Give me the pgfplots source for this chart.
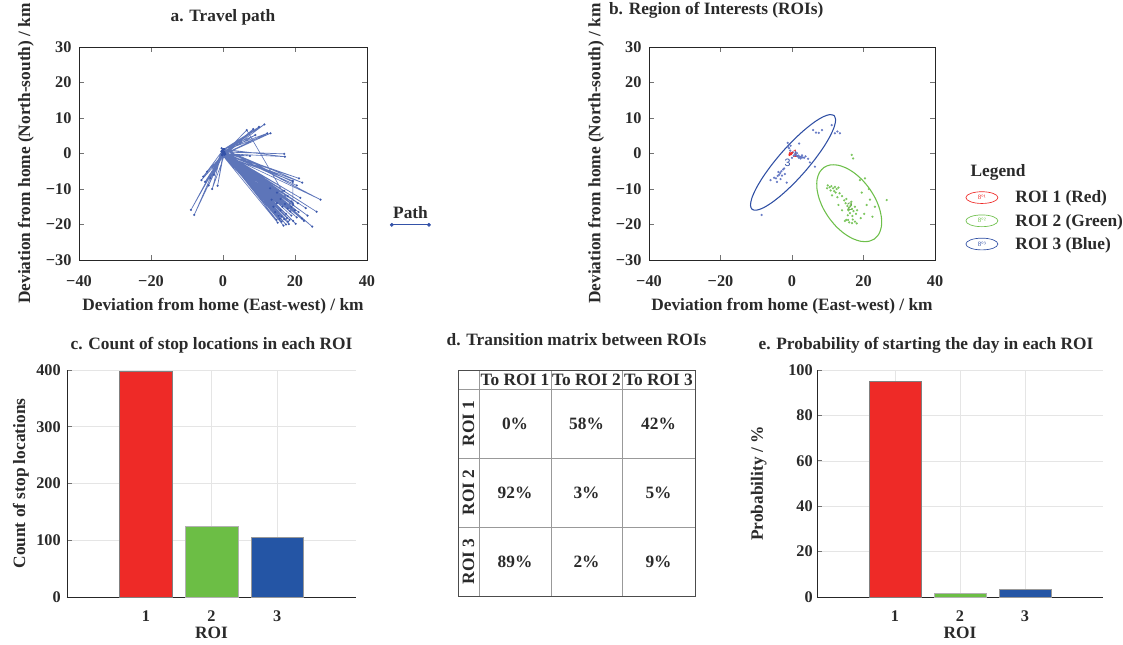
\documentclass[border=0pt]{standalone}
\usepackage{pgfplots}
\pgfplotsset{compat=1.18}
\usepackage{fontspec}
\setmainfont{Liberation Serif}
\setsansfont{Liberation Sans}
\definecolor{roired}{HTML}{EE2A27}
\definecolor{roigreen}{HTML}{6CBE45}
\definecolor{roiblue}{HTML}{2455A5}
\definecolor{pathblue}{HTML}{3452A8}
\definecolor{ptblue}{HTML}{5A6FC0}
\definecolor{ptgreen}{HTML}{74C255}
\definecolor{ellblue}{HTML}{2E4EA3}
\definecolor{ellgreen}{HTML}{6DBF4A}
\definecolor{txt}{HTML}{2A2A2A}
\newcommand{\lab}{\fontsize{13}{15}\selectfont\bfseries\color{txt}}
\newcommand{\tck}{\fontsize{12.2}{14}\selectfont\bfseries\color{txt}}
\pgfplotsset{
 base/.style={scale only axis, font=\lab, tick label style={font=\tck},
   /pgf/number format/assume math mode=true,
   axis line style={black!85, line width=0.6pt},
   tick style={black!55, line width=0.5pt},
   tick align=inside, major tick length=3.5pt,
   title style={anchor=base}, xlabel style={anchor=base}, ylabel style={anchor=base},
 },
 map/.style={base, width=216pt, height=159.75pt,
   xmin=-40,xmax=40,ymin=-30,ymax=30,
   xtick={-40,-20,0,20,40}, xticklabels={−40,−20,0,20,40},
   ytick={-30,-20,-10,0,10,20,30}, yticklabels={−30,−20,−10,0,10,20,30},
   xticklabel style={anchor=base, yshift=-20pt},
   yticklabel style={anchor=east, inner sep=0pt, xshift=-5.5pt},
   xlabel={Deviation from home (East-west) / km},
   ylabel={Deviation from home (North-south) / km},
   xlabel style={at={(axis description cs:0.5,-0.238)}},
   ylabel style={at={(axis description cs:-0.170,0.5)}},
   clip=false,
 },
 barax/.style={base, height=170.25pt,
   xmin=-0.2, xmax=4.2, ymin=0, xtick={1,2,3},
   axis x line*=bottom, axis y line*=left,
   grid=major, grid style={black!10, line width=0.4pt},
   x tick style={draw=none},
   xticklabel style={anchor=base, yshift=-15pt},
   xlabel={ROI},
   xlabel style={at={(axis description cs:0.5,-0.181)}},
   ybar, bar width=0.8, bar shift=0pt,
   clip=false,
 },
}
\begin{document}
\begin{tikzpicture}
\useasboundingbox (0,0) rectangle (842.25pt,483pt);
% ---------------- a. Travel path
\begin{axis}[map, at={(59.25pt,288pt)}, anchor=south west,
  title={a. Travel path}, title style={at={(axis description cs:0.5,1.083)}}]
\addplot[pathblue, line width=0.45pt, opacity=0.8, mark=*, mark size=0.6pt,
  mark options={fill=pathblue, draw=pathblue}] coordinates {
(0,0) (21.1,-7.0) (0.3,0.4) (16.3,-19.2) (-0.3,0.6) (11.5,8.2) (0.5,-0.2) (19.4,-7.7) (-0.2,-0.4) (-8.9,-15.9) (0.2,1.2) (27.1,-13.0) (0,0) (15,-11) (0.3,0.4) (17.0,-0.1) (-0.3,0.6) (26.0,-16.4) (0.5,-0.2) (18.1,-19.2) (-0.2,-0.4) (6.6,6.6) (19,-15) (0.2,1.2) (24.8,-20.6) (0,0) (-1.5,-9.1) (0.3,0.4) (23.0,-15.4) (-0.3,0.6) (14.9,-18.7) (0.5,-0.2) (8.4,6.9) (-0.2,-0.4) (21.9,-18.3) (0.2,1.2) (16,-16) (0,0) (17.5,-17) (0.3,0.4) (-8.0,-17.3) (-0.3,0.6) (19,-17.5) (0.5,-0.2) (20,-16) (-0.2,-0.4) (12.3,5.7) (0.2,1.2) (15.5,-17.5) (0,0) (17,-18.5) (0.3,0.4) (18.5,-18.7) (-0.3,0.6) (-4.4,-5.1) (0.5,-0.2) (19.5,-19) (-0.2,-0.4) (20.5,-18) (0.2,1.2) (17.2,-0.9) (0,0) (14,-15) (0.3,0.4) (15,-14) (-0.3,0.6) (13.2,5.7) (0.5,-0.2) (16.5,-15) (-0.2,-0.4) (18,-15.5) (0.2,1.2) (-3.5,-7) (0,0) (19.5,-14.5) (0.3,0.4) (21,-16.5) (-0.3,0.6) (22.5,-19) (0.5,-0.2) (7.5,-0.7) (-0.2,-0.4) (17.5,-20) (0.2,1.2) (16.8,-20.3) (0,0) (-5,-8) (0.3,0.4) (15.8,-18.4) (-0.3,0.6) (20.2,-19.8) (0.5,-0.2) (13.5,-13) (-0.2,-0.4) (10,7.5) (0.2,1.2) (14.5,-16.5) (0,0) (19,-13.5) (0.3,0.4) (-2.5,-6) (-0.3,0.6) (21.5,-12.5) (0.5,-0.2) (23.5,-17.5) (-0.2,-0.4) (18.7,-16.3) (0.2,1.2) (9,5.2) (0,0) (17.2,-14.2) (0.3,0.4) (16,-12.8) (-0.3,0.6) (-3,-10) (0.5,-0.2) (20.8,-14) (-0.2,-0.4) (13.1,-9.8) (0.2,1.2) (22,-8.2) (0,0) (-4,-9) (0.3,0.4) (20.5,-9) (-0.3,0.6) (17,-10.5) (0.5,-0.2) (18,-12) (-0.2,-0.4) (-5.5,-6.5) (0.2,1.2) (19.4,-8.0) (19.4,-14.0) (0,0) (16.2,-17.8) (0.3,0.4) (18.3,-19.9) (-0.3,0.6) (-6,-7.5) (0.5,-0.2) (17.8,-18.2) (-0.2,-0.4) (15.2,-19.5) (0.2,1.2) (-0.4,1.5) (0,0)
};
% legend sample
\addplot[pathblue, line width=0.6pt, mark=*, mark size=1.1pt] coordinates {(46.9,-20.1) (57.2,-20.1)};
\node[anchor=base] at (axis cs:52.1,-18.2) {Path};
\end{axis}
% ---------------- b. ROIs
\begin{axis}[map, at={(486.75pt,288pt)}, anchor=south west, width=214.5pt,
  title={b. Region of Interests (ROIs)}, title style={at={(axis description cs:0.235,1.117)}}]
\addplot[only marks, mark=*, mark size=0.65pt, ptblue, opacity=0.8] coordinates {
(0.2,0.3) (0.8,-0.2) (1.2,-0.5) (1.5,-0.8) (1.8,-0.6) (2.2,-0.9) (2.6,-1.0) (3.0,-1.1) (3.4,-1.2) (1.0,0.4) (0.5,-0.6) (1.9,-1.2) (2.8,-0.5) (-0.5,0.8) (-0.8,1.5) (-1.1,1.9) (0,-1.2) (2.4,-1.4) (1.4,0.1) (3.8,-0.8) (4.5,-1.5)
(-2.5,-4.5) (-3,-5) (-3.3,-5.5) (-3.6,-6) (-4,-6.3) (-2.8,-6.2) (-4.5,-7) (-3.2,-7.2) (-2,-5.8) (-5,-6.8) (-3.8,-5.2) (-2.2,-4.2) (-4.2,-8) (-1.5,-8.2) (-6,-7.5)
(5.9,6.6) (6.7,5.9) (8.4,6.6) (11.1,8) (12,5.7) (13.4,5.7) (12.7,6.2) (7.5,5.8)
(6.4,-3.7) (5,-2.5) (-8.5,-17.3) (-1.2,3) (-0.4,2.2) (2,2.8)
};
\addplot[only marks, mark=*, mark size=0.65pt, ptgreen, opacity=0.85] coordinates {
(10,-9) (10.5,-9.5) (11,-9.2) (11.5,-9.8) (12,-9.4) (12.5,-10) (13,-9.6) (10.8,-10.4) (11.8,-10.6) (9.8,-9.8) (12.2,-11) (13.3,-11.2) (11.2,-11.8) (12.7,-12.3) (14,-12)
(15,-14) (15.5,-14.8) (16,-15.2) (16.4,-14.6) (16.8,-15.6) (17.2,-16.2) (15.8,-16) (16.2,-16.8) (17.6,-15) (14.6,-13.2) (15.2,-12.8) (16.6,-13.6) (17.9,-17) (16.9,-17.6) (15.6,-17.4) (18.2,-16) (14,-16) (15.2,-18.7) (16,-19.4) (16.8,-19.6) (17.6,-19.2) (18.1,-19.7) (15.7,-18.7) (14.8,-19) (17,-18.6)
(16.7,-0.4) (17.1,-1.4) (19,-7.5) (20.4,-7) (26.5,-13.1) (23.2,-15) (20.9,-14.5) (21.8,-13) (20.2,-17) (22.5,-17.8) (19.5,-11) (13,-14.5) (19.2,-18.2) (21.5,-10)
};
\addplot[only marks, mark=*, mark size=0.65pt, roired] coordinates {(-0.6,0.1) (-0.3,-0.2) (0,0.2) (-0.7,-0.4)};
\addplot[ellblue, line width=0.8pt, smooth] coordinates {
(11.78,10.71) (10.57,10.97) (8.66,10.32) (6.18,8.79) (3.30,6.49) (0.21,3.58) (-2.87,0.26) (-5.73,-3.26) (-8.19,-6.72) (-10.06,-9.89) (-11.23,-12.56) (-11.61,-14.54) (-11.18,-15.71) (-9.97,-15.97) (-8.06,-15.32) (-5.58,-13.79) (-2.70,-11.49) (0.39,-8.58) (3.47,-5.26) (6.33,-1.74) (8.79,1.72) (10.66,4.89) (11.83,7.56) (12.21,9.54) (11.78,10.71)
};
\addplot[ellgreen, line width=0.8pt, smooth] coordinates {
(23.06,-24.08) (24.30,-22.69) (24.98,-20.72) (25.04,-18.29) (24.49,-15.56) (23.37,-12.73) (21.73,-9.99) (19.71,-7.51) (17.44,-5.49) (15.07,-4.04) (12.76,-3.27) (10.67,-3.23) (8.95,-3.92) (7.70,-5.31) (7.02,-7.28) (6.96,-9.71) (7.51,-12.44) (8.63,-15.27) (10.27,-18.01) (12.29,-20.49) (14.56,-22.51) (16.93,-23.96) (19.24,-24.73) (21.33,-24.77) (23.06,-24.08)
};
\node[text=roired, font=\sffamily\fontsize{8}{8}\selectfont] at (axis cs:0.9,-0.2) {1};
\node[text=ellblue, font=\sffamily\fontsize{8}{8}\selectfont] at (axis cs:-1.2,-2.6) {3};
\node[text=roigreen!80!black, font=\sffamily\fontsize{8}{8}\selectfont] at (axis cs:16.2,-15) {2};
% legend
\node[anchor=base west] at (axis description cs:1.108,0.390) {Legend};
\draw[roired, line width=0.5pt] (axis description cs:1.164,0.293) ellipse (12pt and 4.4pt);
\draw[ellgreen, line width=0.5pt] (axis description cs:1.164,0.184) ellipse (12pt and 4.4pt);
\draw[ellblue, line width=0.5pt] (axis description cs:1.164,0.075) ellipse (12pt and 4.4pt);
\node[text=roired, font=\fontsize{5}{5}\selectfont] at (axis description cs:1.164,0.293) {8°¹};
\node[text=ellgreen, font=\fontsize{5}{5}\selectfont] at (axis description cs:1.164,0.184) {8°²};
\node[text=ellblue, font=\fontsize{5}{5}\selectfont] at (axis description cs:1.164,0.075) {8°³};
\node[anchor=base west] at (axis description cs:1.265,0.268) {ROI 1 (Red)};
\node[anchor=base west] at (axis description cs:1.265,0.159) {ROI 2 (Green)};
\node[anchor=base west] at (axis description cs:1.265,0.050) {ROI 3 (Blue)};
\end{axis}
% ---------------- c. Count
\begin{axis}[barax, at={(50.25pt,35.25pt)}, anchor=south west, width=216.75pt,
  ymax=400, ytick={0,100,200,300,400},
  yticklabel style={anchor=east, inner sep=0pt, xshift=-4.5pt},
  ylabel={Count of stop locations}, ylabel style={at={(axis description cs:-0.145,0.5)}},
  title={c. Count of stop locations in each ROI}, title style={at={(axis description cs:0.5,1.057)}}]
\addplot[fill=roired, draw=black!50, line width=0.4pt] coordinates {(1,398)};
\addplot[fill=roigreen, draw=black!30, line width=0.4pt] coordinates {(2,125)};
\addplot[fill=roiblue, draw=black!40, line width=0.4pt] coordinates {(3,106)};
\end{axis}
% ---------------- d. Transition matrix
\begin{axis}[base, at={(343.5pt,36pt)}, anchor=south west, width=177.75pt, height=169.5pt,
  xmin=0, xmax=237, ymin=0, ymax=226,
  xtick={0,21,93,164,237}, ytick={0,69,138,207,226},
  xticklabels={}, yticklabels={}, tick style={draw=none},
  grid=major, grid style={black!40, line width=0.5pt},
  axis line style={black!70, line width=0.6pt},
  title={d. Transition matrix between ROIs}, title style={at={(axis description cs:0.5,1.071)}}]
\node at (axis cs:57,216.5) {To ROI 1};
\node at (axis cs:128.5,216.5) {To ROI 2};
\node at (axis cs:200.5,216.5) {To ROI 3};
\node[rotate=90] at (axis cs:10.5,172.5) {ROI 1};
\node[rotate=90] at (axis cs:10.5,103.5) {ROI 2};
\node[rotate=90] at (axis cs:10.5,34.5) {ROI 3};
\node at (axis cs:57,172.5) {0\%};
\node at (axis cs:128.5,172.5) {58\%};
\node at (axis cs:200.5,172.5) {42\%};
\node at (axis cs:57,103.5) {92\%};
\node at (axis cs:128.5,103.5) {3\%};
\node at (axis cs:200.5,103.5) {5\%};
\node at (axis cs:57,34.5) {89\%};
\node at (axis cs:128.5,34.5) {2\%};
\node at (axis cs:200.5,34.5) {9\%};
\end{axis}
% ---------------- e. Probability
\begin{axis}[barax, at={(612.75pt,35.25pt)}, anchor=south west, width=214.5pt,
  ymax=100, ytick={0,20,40,60,80,100},
  yticklabel style={anchor=east, inner sep=0pt, xshift=-3pt},
  ylabel={Probability / \%}, ylabel style={at={(axis description cs:-0.189,0.5)}},
  title={e. Probability of starting the day in each ROI}, title style={at={(axis description cs:0.381,1.057)}}]
\addplot[fill=roired, draw=black!50, line width=0.4pt] coordinates {(1,95.2)};
\addplot[fill=roigreen, draw=black!30, line width=0.4pt] coordinates {(2,1.6)};
\addplot[fill=roiblue, draw=black!40, line width=0.4pt] coordinates {(3,3.2)};
\end{axis}
\end{tikzpicture}
\end{document}
